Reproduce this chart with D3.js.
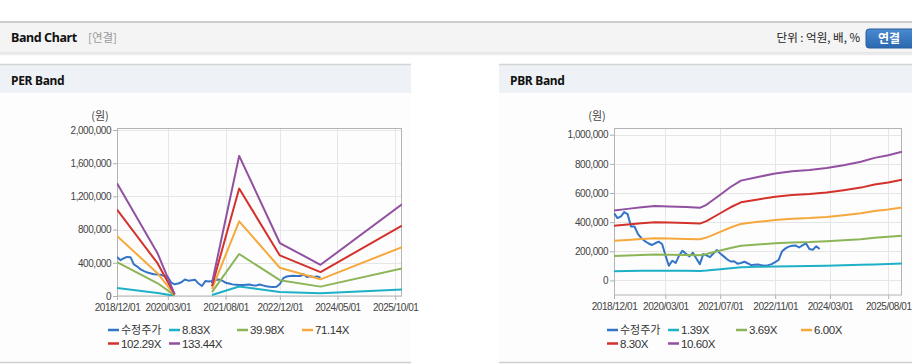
<!DOCTYPE html>
<html><head><meta charset="utf-8">
<script src="https://cdn.jsdelivr.net/npm/d3@7"></script>
<style>body{margin:0;background:#fff}svg{display:block}</style>
</head><body><svg id="c" width="912" height="364"></svg>
<script>
// ---------- DATA ----------
const priceStart = "2018-12-01", priceEnd = "2023-12-01";
const perPrice = [471000,431000,455000,471000,468000,380000,355000,320000,300000,282000,
  272000,262000,258000,255000,240000,228000,160000,141000,150000,165000,
  198000,185000,190000,195000,150000,121000,180000,176000,180000,190000,
  198000,185000,160000,150000,140000,136000,133000,133000,136000,138000,
  130000,125000,138000,128000,118000,112000,109000,112000,145000,215000,
  235000,241000,243000,240000,241000,262000,229000,238000,229000,235000,220000];
const pbrPrice = [462000,428000,440000,469000,455000,370000,370000,320000,290000,270000,
  255000,243000,255000,266000,250000,174000,101000,135000,120000,170000,
  204000,182000,165000,190000,150000,112000,181000,172000,160000,185000,
  209000,185000,165000,145000,130000,132000,115000,120000,128000,118000,
  105000,108000,110000,105000,101000,105000,112000,125000,140000,200000,
  220000,232000,238000,240000,226000,240000,255000,215000,210000,235000,216000];

const perBandDates = ["2018-12-01","2019-12-01","2020-05-01","2020-10-01","2021-04-01","2021-12-01","2022-12-01","2023-12-01","2025-12-01"];
const perBand1 = [95000, 36000, 2000, null, 12000, 115000, 48000, 33000, 78000];      // 8.83X
const perBand2 = [407000, 153000, 7000, null, 46000, 506000, 191000, 113000, 331000];  // 39.98X
const perBand3 = [724000, 272000, 12000, null, 82000, 900000, 340000, 201000, 589000]; // 71.14X
const perBand4 = [1041000, 392000, 17000, null, 118000, 1294000, 489000, 288000, 847000]; // 102.29X
const perBand5 = [1358000, 511000, 23000, null, 153000, 1688000, 638000, 376000, 1105000]; // 133.44X

const pbrBandDates = ["2018-12-01","2019-04-01","2019-08-01","2019-12-01","2020-04-01","2020-09-01","2021-01-01","2021-03-01","2021-07-01","2021-10-01","2022-01-01","2022-06-01","2022-11-01","2023-04-01","2023-09-01","2024-02-01","2024-07-01","2024-12-01","2025-04-01","2025-08-01","2025-12-01"];
const pbrBand1 = [63000,64000,66000,67000,66000,66000,65000,68000,77000,84000,90000,93000,96000,98000,99000,101000,104000,107000,110000,113000,116000];   // 1.39X
const pbrBand2 = [167000,171000,175000,178000,176000,175000,173000,181000,205000,223000,238000,247000,255000,261000,263000,268000,275000,283000,293000,299000,307000]; // 3.69X
const pbrBand3 = [272000,278000,284000,289000,287000,285000,282000,294000,333000,363000,388000,402000,415000,424000,428000,436000,448000,461000,476000,486000,500000]; // 6.00X
const pbrBand4 = [376000,384000,393000,400000,397000,394000,390000,407000,461000,502000,536000,556000,574000,587000,593000,603000,619000,637000,658000,672000,691000]; // 8.30X
const pbrBand5 = [480000,491000,502000,511000,507000,504000,498000,519000,588000,641000,685000,710000,734000,749000,757000,771000,791000,814000,841000,859000,883000]; // 10.60X

const perLegend = ["수정주가","8.83X","39.98X","71.14X","102.29X","133.44X"];
const pbrLegend = ["수정주가","1.39X","3.69X","6.00X","8.30X","10.60X"];
const perXTicks = ["2018-12-01","2020-03-01","2021-08-01","2022-12-01","2024-05-01","2025-10-01"];
const pbrXTicks = ["2018-12-01","2020-03-01","2021-07-01","2022-11-01","2024-03-01","2025-08-01"];
const perYTicks = [0,400000,800000,1200000,1600000,2000000];
const pbrYTicks = [0,200000,400000,600000,800000,1000000];
const xDomain = ["2018-12-01","2025-12-01"];

const colors = ["#3474c6","#1eb0c6","#8cb558","#f5a83c","#d4312b","#9150a0"];

// ---------- PAGE CHROME ----------
const svg = d3.select("#c");
const parse = d3.timeParse("%Y-%m-%d");
const fmtDate = d3.timeFormat("%Y/%m/%d");
const fmtNum = d3.format(",");
const NUM_FONT = "'Liberation Sans', Arial, sans-serif";
const KR_FONT = "'Noto Sans CJK KR', 'Noto Sans', sans-serif";

svg.append("rect").attr("x",0).attr("y",0).attr("width",912).attr("height",364).attr("fill","#fff");
// header bar
svg.append("rect").attr("x",0).attr("y",22).attr("width",912).attr("height",31).attr("fill","#f4f4f4");
svg.append("line").attr("x1",0).attr("x2",912).attr("y1",22).attr("y2",22).attr("stroke","#bdbdbd").attr("stroke-width",1.5);
svg.append("line").attr("x1",0).attr("x2",912).attr("y1",53).attr("y2",53).attr("stroke","#d6d6d6").attr("stroke-width",1);
svg.append("line").attr("x1",0).attr("x2",912).attr("y1",54.5).attr("y2",54.5).attr("stroke","#ececec").attr("stroke-width",1.5);
svg.append("text").attr("x",11).attr("y",42).text("Band Chart")
  .attr("font-family","'Noto Sans', Arial, sans-serif").attr("font-weight","bold").attr("font-size",12.5).attr("fill","#111").attr("letter-spacing",-0.4);
svg.append("text").attr("x",88).attr("y",42).text("[연결]")
  .attr("font-family",KR_FONT).attr("font-size",11.5).attr("fill","#999");
svg.append("text").attr("x",860).attr("y",42).attr("text-anchor","end").text("단위 : 억원, 배, %")
  .attr("font-family",KR_FONT).attr("font-size",11.5).attr("fill","#222");
const grad = svg.append("defs").append("linearGradient").attr("id","btn").attr("x1",0).attr("x2",0).attr("y1",0).attr("y2",1);
grad.append("stop").attr("offset","0%").attr("stop-color","#4a8ad0");
grad.append("stop").attr("offset","100%").attr("stop-color","#2a68b0");
svg.append("rect").attr("x",866).attr("y",29).attr("width",52).attr("height",19).attr("rx",3).attr("fill","url(#btn)").attr("stroke","#2a5f9e");
svg.append("text").attr("x",889).attr("y",43).attr("text-anchor","middle").text("연결")
  .attr("font-family",KR_FONT).attr("font-weight","bold").attr("font-size",12).attr("fill","#fff");

function panel(x0, w, title) {
  svg.append("rect").attr("x",x0).attr("y",64).attr("width",w).attr("height",29).attr("fill","#eef2f6");
  svg.append("line").attr("x1",x0).attr("x2",x0+w).attr("y1",64.5).attr("y2",64.5).attr("stroke","#d4d4d4").attr("stroke-width",1.5);
  svg.append("rect").attr("x",x0).attr("y",93).attr("width",w).attr("height",269).attr("fill","#fdfdfd");
  svg.append("line").attr("x1",x0).attr("x2",x0+w).attr("y1",362.5).attr("y2",362.5).attr("stroke","#d0d0d0").attr("stroke-width",1.5);
  svg.append("text").attr("x",x0+11).attr("y",85).text(title)
    .attr("font-family","'Noto Sans', Arial, sans-serif").attr("font-weight","bold").attr("font-size",12).attr("fill","#111").attr("letter-spacing",-0.3);
}
panel(0, 411, "PER Band");
panel(499, 413, "PBR Band");

// ---------- CHARTS ----------
function drawChart(cfg) {
  const g = svg.append("g");
  const x = d3.scaleTime().domain(xDomain.map(parse)).range([cfg.left, cfg.right]);
  const y = d3.scaleLinear().domain(cfg.yDomain).range([cfg.bottom, cfg.top]);

  // grid
  g.selectAll(".hg").data(cfg.yTicks).join("line")
    .attr("x1",cfg.left).attr("x2",cfg.right)
    .attr("y1",d=>Math.round(y(d))+0.5).attr("y2",d=>Math.round(y(d))+0.5)
    .attr("stroke","#e6e6e6");
  g.selectAll(".vg").data(cfg.xTicks.slice(1)).join("line")
    .attr("x1",d=>Math.round(x(parse(d)))+0.5).attr("x2",d=>Math.round(x(parse(d)))+0.5)
    .attr("y1",cfg.top).attr("y2",cfg.bottom)
    .attr("stroke","#e6e6e6");

  // axes
  const yAxis = d3.axisLeft(y).tickValues(cfg.yTicks).tickFormat(fmtNum).tickSize(4).tickPadding(2);
  const ya = g.append("g").attr("transform",`translate(${cfg.left},0)`).call(yAxis);
  const xAxis = d3.axisBottom(x).tickValues(cfg.xTicks.map(parse)).tickFormat(fmtDate).tickSize(4).tickPadding(4);
  const xa = g.append("g").attr("transform",`translate(0,${cfg.bottom})`).call(xAxis);
  [ya, xa].forEach(a => {
    a.select(".domain").remove();
    a.selectAll(".tick line").attr("stroke","#b0b0b0");
    a.selectAll("text").attr("font-family",NUM_FONT).attr("font-size",10).attr("fill","#444").attr("letter-spacing",-0.45);
  });
  // frame
  g.append("rect").attr("x",cfg.left+0.5).attr("y",cfg.top+0.5)
    .attr("width",cfg.right-cfg.left-1).attr("height",cfg.bottom-cfg.top-0.5)
    .attr("fill","none").attr("stroke","#b4b4b4");

  g.append("text").attr("x",cfg.left-17).attr("y",cfg.top-8).attr("text-anchor","middle").text("(원)")
    .attr("font-family",KR_FONT).attr("font-size",11).attr("fill","#444");

  const line = d3.line().defined(d=>d.v!=null).x(d=>x(d.t)).y(d=>y(d.v));
  const clipId = "clip"+cfg.id;
  g.append("clipPath").attr("id",clipId).append("rect")
    .attr("x",cfg.left).attr("y",cfg.top).attr("width",cfg.right-cfg.left).attr("height",cfg.bottom-cfg.top);
  const months = d3.timeMonth.range(parse(priceStart), d3.timeMonth.offset(parse(priceEnd),1));
  const series = [cfg.price.map((v,i)=>({t:months[i],v}))]
    .concat(cfg.bands.map(b => b.map((v,i)=>({t:parse(cfg.bandDates[i]),v}))));
  const lg = g.append("g").attr("clip-path",`url(#${clipId})`);
  series.forEach((s,i) => {
    lg.append("path").datum(s).attr("d",line).attr("fill","none")
      .attr("stroke",colors[i]).attr("stroke-width",2).attr("stroke-linejoin","round");
  });

  // legend
  const offs = [0,61,129,194];
  cfg.legend.forEach((name,i) => {
    const lx = cfg.legendX + offs[i%4], ly = 330 + Math.floor(i/4)*13.5;
    g.append("line").attr("x1",lx).attr("x2",lx+11).attr("y1",ly).attr("y2",ly)
      .attr("stroke",colors[i]).attr("stroke-width",2.5);
    g.append("text").attr("x",lx+13).attr("y",ly+4).text(name)
      .attr("font-family", i===0 ? KR_FONT : NUM_FONT)
      .attr("font-size", i===0 ? 11 : 11.5).attr("fill","#333")
      .attr("letter-spacing", i===0 ? 0 : -0.4);
  });
}

drawChart({id:"per", left:117, right:402, top:128, bottom:296, yDomain:[0,2024000],
  yTicks:perYTicks, xTicks:perXTicks, price:perPrice, bandDates:perBandDates,
  bands:[perBand1,perBand2,perBand3,perBand4,perBand5], legend:perLegend, legendX:108});
drawChart({id:"pbr", left:614, right:902, top:128, bottom:295, yDomain:[-100000,1046000],
  yTicks:pbrYTicks, xTicks:pbrXTicks, price:pbrPrice, bandDates:pbrBandDates,
  bands:[pbrBand1,pbrBand2,pbrBand3,pbrBand4,pbrBand5], legend:pbrLegend, legendX:607});
</script></body></html>
